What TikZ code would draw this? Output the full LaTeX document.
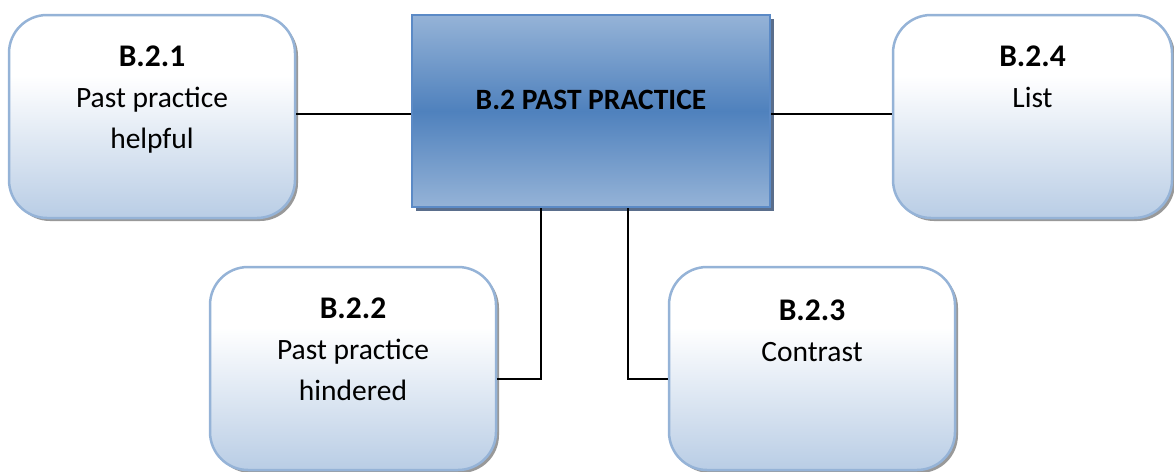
\documentclass[tikz,border=0pt]{standalone}
\usepackage{fontspec}
\setmainfont{Carlito}
\usetikzlibrary{shadows,calc}
\definecolor{bordblue}{HTML}{95B3D7}
\definecolor{lightbot}{HTML}{B9CDE5}
\definecolor{midblue}{HTML}{4F81BD}
\definecolor{topblue}{HTML}{95B3D7}
\definecolor{ctrborder}{HTML}{5B8AC6}
\definecolor{ctrshadow}{HTML}{5A6E8C}
\pgfdeclareverticalshading{outershade}{100bp}{color(0bp)=(lightbot); color(25bp)=(lightbot); color(60bp)=(white); color(100bp)=(white)}
\pgfdeclareverticalshading{centreshade}{100bp}{color(0bp)=(topblue); color(25bp)=(topblue); color(50bp)=(midblue); color(75bp)=(topblue); color(100bp)=(topblue)}
\begin{document}
\begin{tikzpicture}[x=1pt,y=-1pt,
  outerbox/.style={draw=bordblue, line width=2.5pt, rounded corners=38pt, shade, shading=outershade,
    minimum width=286pt, minimum height=203pt, inner sep=0pt,
    drop shadow={shadow xshift=3pt, shadow yshift=-3pt, fill=black!40, opacity=1}},
  ctrbox/.style={draw=ctrborder, line width=2.5pt, shade, shading=centreshade,
    minimum width=358pt, minimum height=192pt, inner sep=0pt,
    drop shadow={shadow xshift=4pt, shadow yshift=-4pt, fill=ctrshadow, opacity=1}},
  lbl/.style={anchor=north, inner sep=0pt, align=center, font=\fontsize{29.5}{41}\selectfont},
  conn/.style={draw=black, line width=2.5pt}]
\useasboundingbox (0,0) rectangle (1174,471);
\node[outerbox] (b1) at (152,116.5) {};
\node[ctrbox] (ctr) at (591,111) {};
\node[outerbox, minimum width=279pt] (b4) at (1032.5,116.5) {};
\node[outerbox] (b2) at (353,368.5) {};
\node[outerbox] (b3) at (812,368.5) {};
\node[lbl] (t1) at ($(b1.north)+(0,32)$) {{\fontsize{31.5}{41}\selectfont\textbf{B.2.1}}\\Past practice\\helpful};
\node[lbl] (t4) at ($(b4.north)+(0,32)$) {{\fontsize{31.5}{41}\selectfont\textbf{B.2.4}}\\List};
\node[lbl] (t2) at ($(b2.north)+(0,32)$) {{\fontsize{31.5}{41}\selectfont\textbf{B.2.2}}\\Past practice\\hindered};
\node[lbl] (t3) at ($(b3.north)+(0,34)$) {{\fontsize{31.5}{41}\selectfont\textbf{B.2.3}}\\Contrast};
\node[lbl] (tc) at (591,90) {\textbf{B.2 PAST PRACTICE}};
\draw[conn] (b1.east |- 0,114) -- (ctr.west |- 0,114);
\draw[conn] (ctr.east |- 0,114) -- (b4.west |- 0,114);
\draw[conn] (ctr.south -| 541,0) -- (541,379) -- (b2.east |- 0,379);
\draw[conn] (ctr.south -| 628,0) -- (628,379) -- (b3.west |- 0,379);
\end{tikzpicture}
\end{document}
